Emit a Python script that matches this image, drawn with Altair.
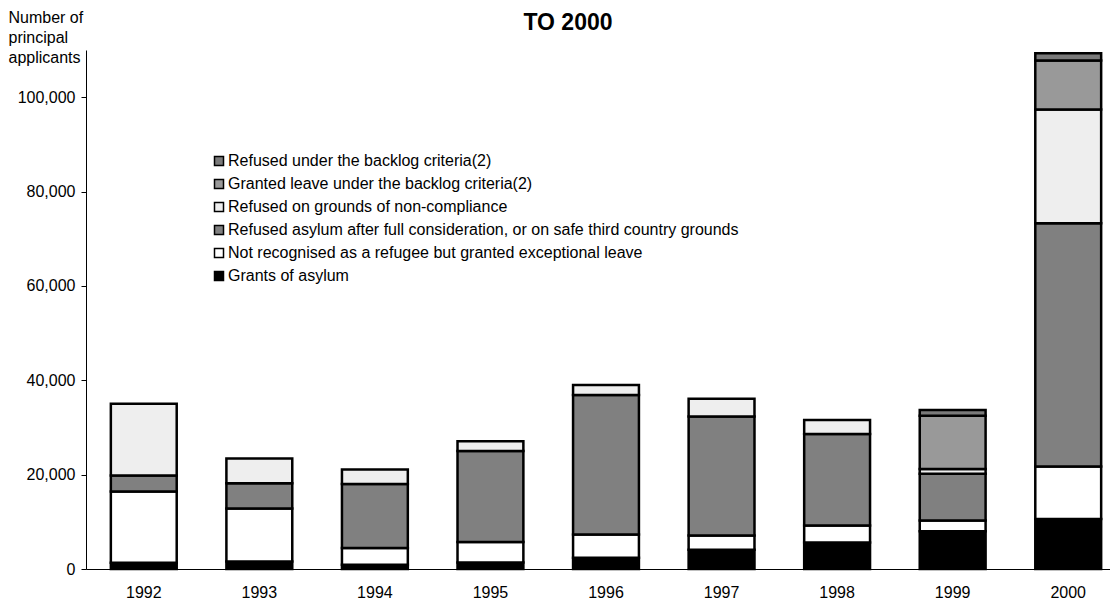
import altair as alt
import pandas as pd

years = ["1992", "1993", "1994", "1995", "1996", "1997", "1998", "1999", "2000"]
grants = [1300, 1600, 900, 1400, 2400, 4100, 5600, 8000, 10600]
exceptional_leave = [15100, 11200, 3550, 4300, 4900, 3000, 3600, 2300, 11100]
refused_asylum = [3400, 5400, 13550, 19300, 29600, 25200, 19400, 9900, 51600]
non_compliance = [15200, 5200, 3100, 2100, 2100, 3800, 3000, 1000, 24100]
backlog_granted = [0, 0, 0, 0, 0, 0, 0, 11300, 10400]
backlog_refused = [0, 0, 0, 0, 0, 0, 0, 1200, 1500]

categories = [
    "Grants of asylum",
    "Not recognised as a refugee but granted exceptional leave",
    "Refused asylum after full consideration, or on safe third country grounds",
    "Refused on grounds of non-compliance",
    "Granted leave under the backlog criteria(2)",
    "Refused under the backlog criteria(2)",
]
series = [grants, exceptional_leave, refused_asylum, non_compliance,
          backlog_granted, backlog_refused]
colors = ["#000000", "#ffffff", "#808080", "#eeeeee", "#999999", "#7a7a7a"]

rows = []
for i, (cat, vals) in enumerate(zip(categories, series)):
    for y, v in zip(years, vals):
        rows.append({"year": y, "category": cat, "value": v, "order": i})
df = pd.DataFrame(rows)

legend_order = categories[::-1]
legend_colors = colors[::-1]

chart = alt.Chart(df).transform_filter(
    alt.datum.value > 0
).mark_bar(stroke="black", strokeWidth=2.5).encode(
    x=alt.X("year:N", title=None,
            scale=alt.Scale(range=[0, 1040], paddingInner=0.43, paddingOuter=0.215),
            axis=alt.Axis(labelAngle=0, ticks=False, labelPadding=15,
                          domainColor="black", domainWidth=1)),
    y=alt.Y("value:Q", stack="zero",
            scale=alt.Scale(domain=[0, 110000], nice=False),
            axis=alt.Axis(values=[0, 20000, 40000, 60000, 80000, 100000],
                          format=",d", grid=False, tickSize=5, labelPadding=6,
                          tickColor="black", domainColor="black",
                          title=["Number of", "principal", "applicants"],
                          titleAngle=0, titleAlign="left", titleBaseline="top",
                          titleX=-78, titleY=-41, titleFontWeight="normal",
                          titleFontSize=16, titleLineHeight=20)),
    color=alt.Color("category:N",
                    scale=alt.Scale(domain=legend_order, range=legend_colors),
                    legend=alt.Legend(title=None, orient="none", legendX=125, legendY=103,
                                      symbolType="square", symbolSize=81,
                                      symbolStrokeColor="black", symbolStrokeWidth=1.5,
                                      labelFontSize=16, labelLimit=700, rowPadding=7,
                                      labelOffset=1, symbolOpacity=1)),
    order=alt.Order("order:Q", sort="ascending"),
).properties(
    width=1016, height=519,
    title=alt.TitleParams("TO 2000", fontSize=23, fontWeight="bold", anchor="middle",
                          dx=-26, offset=-26),
    autosize=alt.AutoSizeParams(type="none"),
    padding={"left": 78, "top": 42, "right": 8, "bottom": 36},
).configure(
    font="Liberation Sans",
).configure_axis(
    labelFontSize=16, labelColor="black", titleColor="black",
).configure_view(stroke=None).configure_title(color="black")

chart.save("out.html", embed_options={"renderer": "svg", "actions": False})
